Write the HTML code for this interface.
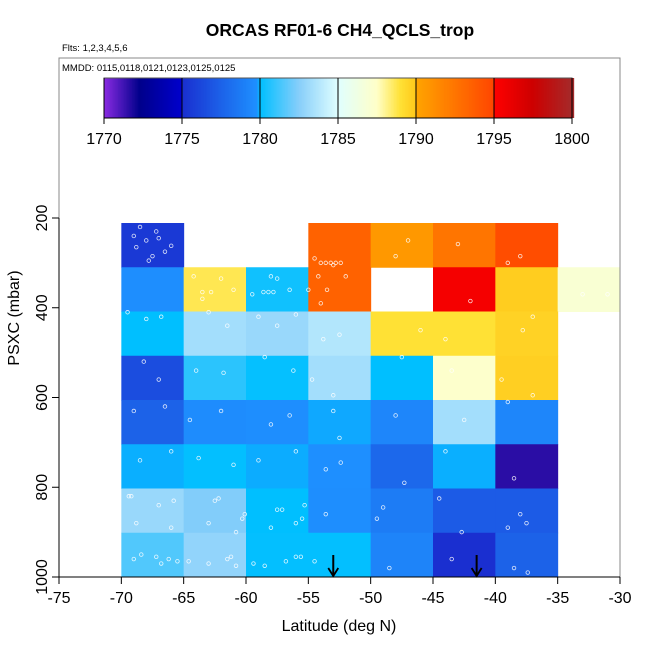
<!DOCTYPE html>
<html><head><meta charset="utf-8"><style>
body{margin:0;background:#fff}
svg text{font-family:"Liberation Sans",sans-serif}
</style></head><body>
<svg id="c" width="650" height="650" viewBox="0 0 650 650" xmlns="http://www.w3.org/2000/svg"></svg>
<script>
const latEdges=[-70,-65,-60,-55,-50,-45,-40,-35,-30];
const presBins=[250,350,450,550,650,750,850,950];
const row200=[1775.5,null,null,1793.5,1790.7,1792.5,1794.6,null];
const row300=[1779.7,1788.7,1780.3,1793.5,null,1795.5,1789.8,1787.0];
const row400=[1780,1783.3,1783,1783.7,1789,1789,1789.6,null];
const row500=[1776.5,1780.8,1780.1,1783.3,1780,1787.3,1789.7,null];
const row600=[1777.5,1779.6,1779.7,1779.9,1779.3,1783.3,1779.3,null];
const row700=[1779.93,1780.05,1779.92,1779.75,1777.8,1779.93,1771.6,null];
const row800=[1783,1782.4,1780,1779.7,1778.8,1777.2,1777.2,null];
const row900=[1781.5,1782.8,1780.05,1780.05,1779.2,1775,1777.5,null];
const grid=[row200,row300,row400,row500,row600,row700,row800,row900];
const xTicks=[-75,-70,-65,-60,-55,-50,-45,-40,-35,-30];
const yTicks=[200,400,600,800,1000];
const cbTicks=[1770,1775,1780,1785,1790,1795,1800];
const arrowLats=[-53,-41.5];
const obsLat=[-68.5,-67,-68.8,-67.5,-66,-67.8,-68,-69,-66.5,-67.2,-64.2,-62,-61,-63.5,-58,-57.5,-56.5,-59.5,-54.5,-53,-52,-53.5,-54,-47,-48,-43,-42,-38,-39,-33,-31,
-69.5,-68,-66.8,-63,-61.5,-59,-56,-57.5,-53.8,-52.5,-46,-44,-37,-37.8,
-68.2,-67,-64,-61.8,-58.5,-56.2,-54.7,-53,-47.5,-43.5,-39.5,-37,
-69,-66.5,-64.5,-62,-58,-56.5,-53,-52.5,-48,-42.5,-39,
-68.5,-66,-63.8,-61,-59,-56,-53.6,-52.4,-47.3,-44,-38.5,
-69.2,-67,-62.5,-60.3,-57.5,-55.5,-53.6,-49,-44.5,-39,-38,
-68.8,-66,-63,-60.8,-58,-56,-49.5,-42.7,-37.5,
-69,-67.2,-65.5,-63,-61.5,-58.5,-56,-54.5,-48.5,-43.5,-38.5,-37.4,-66.8,-60.8,
-54,-53.6,-53.2,-52.8,-52.4,-55,-54.2,-63.5,-62.8,-58.6,-58.2,-57.8,-68.4,-66.2,-64.6,-61.2,-59.4,-56.8,-55.6,-69.4,-65.8,-62.2,-60.1,-57.1,-55.3];
const obsPres=[220,245,265,285,262,295,250,240,275,230,330,335,360,380,330,335,360,370,290,305,330,360,390,250,285,258,385,285,300,370,370,
410,425,420,410,440,420,415,440,470,460,450,470,420,450,
520,560,540,545,510,540,560,595,510,540,560,595,
630,620,650,630,660,640,630,690,640,650,610,
740,720,735,750,740,720,760,745,790,720,780,
820,840,830,870,850,870,860,845,825,890,860,
880,890,880,900,890,880,870,900,880,
960,955,965,970,960,975,955,965,980,960,980,990,970,975,
300,300,300,300,300,360,330,365,365,365,365,365,950,960,965,955,970,965,955,820,830,825,860,850,840];
const NS='http://www.w3.org/2000/svg';
const svg=document.getElementById('c');
const X0=59,X1=620,Y0=218,Y1=577;
const xs=v=>X0+(v+75)*(X1-X0)/45;
const ys=p=>Y0+(p-200)*(Y1-Y0)/800;
function mk(t,a,p){const e=document.createElementNS(NS,t);for(const k in a)e.setAttribute(k,a[k]);(p||svg).appendChild(e);return e;}
function hx(h){return[parseInt(h.substr(1,2),16),parseInt(h.substr(3,2),16),parseInt(h.substr(5,2),16)];}
const segs=[[1770,'#8a2be2',1772.3,'#00008b'],[1772.3,'#00008b',1775,'#0000cd'],[1775,'#1a2fd0',1779.8,'#1e90ff'],[1779.8,'#1e90ff',1780,'#00bfff'],[1780,'#00bfff',1782.5,'#87cefa'],[1782.5,'#87cefa',1785,'#e0ffff'],[1785,'#e0ffff',1787.5,'#ffffc8'],[1787.5,'#ffffc8',1789,'#ffe135'],[1789,'#ffe135',1790,'#ffc81a'],[1790,'#ffa500',1795,'#ff4500'],[1795,'#ff0000',1797.5,'#cd0000'],[1797.5,'#cd0000',1800,'#a52a2a']];
function cmap(v){for(const s of segs){if(v>=s[0]&&v<s[2]||s[2]===1800&&v>=1800){const t=Math.min(1,(v-s[0])/(s[2]-s[0]));const a=hx(s[1]),b=hx(s[3]);return 'rgb('+a.map((q,i)=>Math.round(q+(b[i]-q)*t)).join(',')+')';}}return '#fff';}
let t=mk('text',{x:340,y:36,'text-anchor':'middle','font-size':17.5,'font-weight':'bold'});t.textContent='ORCAS RF01-6 CH4_QCLS_trop';


t=mk('text',{x:62,y:51,'font-size':9.5});t.textContent='Flts: 1,2,3,4,5,6';


t=mk('text',{x:62,y:71,'font-size':9.5});t.textContent='MMDD: 0115,0118,0121,0123,0125,0125';


const rh=(Y1-Y0-5)/8;
grid.forEach((row,ri)=>row.forEach((v,ci)=>{if(v===null)return;
 const x=xs(latEdges[ci]),w=xs(latEdges[ci+1])-x;const y=223+ri*rh;
 const r=mk('rect',{x:x,y:y,width:w+0.5,height:rh+0.5,fill:cmap(v)});
 
 
}));
obsLat.forEach((la,i)=>{const c=mk('circle',{cx:xs(la),cy:ys(obsPres[i]),r:1.8,fill:'none',stroke:'#fff','stroke-width':0.8,opacity:0.85});
 
 });
arrowLats.forEach(a=>{const g=mk('g',{});
 
 
 const x=xs(a);mk('line',{x1:x,y1:555,x2:x,y2:576,stroke:'#000','stroke-width':2},g);
 mk('path',{d:`M${x-5} ${568}L${x} ${576}L${x+5} ${568}`,fill:'none',stroke:'#000','stroke-width':1.8},g);});
const bx=mk('rect',{x:X0,y:58,width:X1-X0,height:Y1-58,fill:'none',stroke:'#888','stroke-width':1});


const CB0=104,CB1=572,cby=78,cbh=40;
const cbx=v=>CB0+(v-1770)*(CB1-CB0)/30;
const cbg=mk('g',{});


for(let v=1770;v<1800;v+=0.1){mk('rect',{x:cbx(v),y:cby,width:(CB1-CB0)/300+0.6,height:cbh,fill:cmap(v+0.05)},cbg);}
mk('rect',{x:CB0,y:cby,width:CB1-CB0,height:cbh,fill:'none',stroke:'#555'},cbg);
mk('line',{x1:CB0,y1:cby+cbh,x2:CB1,y2:cby+cbh,stroke:'#000'},cbg);
cbTicks.forEach(v=>{const x=cbx(v);mk('line',{x1:x,y1:cby,x2:x,y2:cby+cbh+6,stroke:'#000'},cbg);
 const l=mk('text',{x:x,y:144,'text-anchor':'middle','font-size':16},cbg);l.textContent=v;
 
 });
mk('line',{x1:X0,y1:Y1,x2:X1,y2:Y1,stroke:'#000'});
xTicks.forEach(v=>{const x=xs(v);mk('line',{x1:x,y1:Y1,x2:x,y2:Y1+7,stroke:'#000'});
 const l=mk('text',{x:x,y:603,'text-anchor':'middle','font-size':16});l.textContent=v;
 
 });
mk('line',{x1:X0,y1:Y0,x2:X0,y2:Y1,stroke:'#000'});
yTicks.forEach(v=>{const y=ys(v);mk('line',{x1:X0-7,y1:y,x2:X0,y2:y,stroke:'#000'});
 const l=mk('text',{x:0,y:0,'text-anchor':'middle','font-size':16,transform:`translate(47 ${y}) rotate(-90)`});l.textContent=v;
 
 });
t=mk('text',{x:339,y:631,'text-anchor':'middle','font-size':16});t.textContent='Latitude (deg N)';


t=mk('text',{x:0,y:0,'text-anchor':'middle','font-size':16,transform:'translate(19 318) rotate(-90)'});t.textContent='PSXC (mbar)';


</script>
</body></html>
